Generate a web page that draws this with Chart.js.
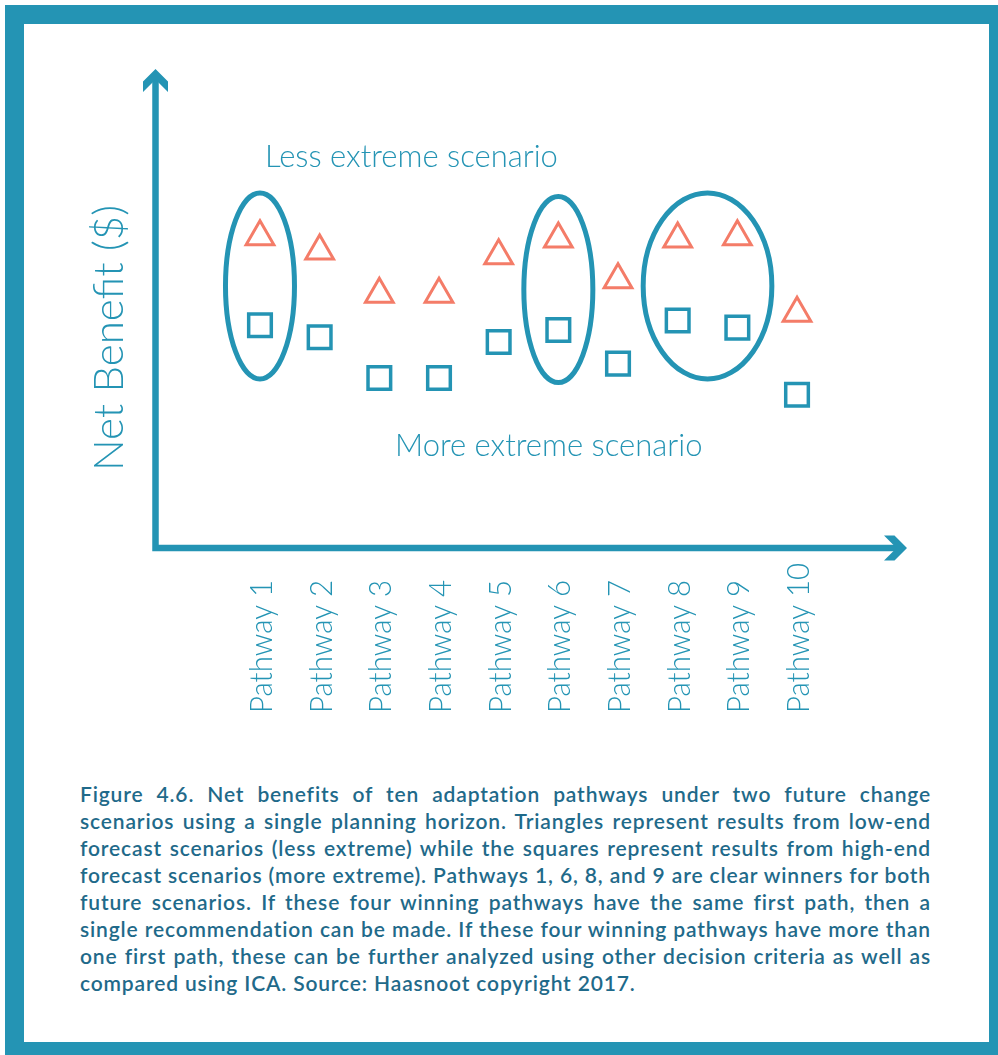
<!DOCTYPE html>
<html>
<head>
<meta charset="utf-8">
<script src="https://cdn.jsdelivr.net/npm/chart.js@4.4.1/dist/chart.umd.min.js"></script>
<style>
html, body { margin: 0; padding: 0; background: #fff; }
#page { position: relative; width: 998px; height: 1055px; overflow: hidden; background: #fff; }
#frame { position: absolute; left: 5px; top: 5px; width: 993px; height: 1050px; background: #2494b4; }
#inner { position: absolute; left: 24px; top: 24px; width: 965px; height: 1018px; background: #fff; }
#myChart { position: absolute; left: 0; top: 0; }
#caption { position: absolute; left: 80px; top: 780px; width: 851px; font-family: Lato, sans-serif; font-weight: 600;
  font-size: 21px; letter-spacing: 0.85px; line-height: 27px; color: #1f6a8a; }
#caption div { text-align: justify; text-align-last: justify; white-space: nowrap; }
#caption div.last { text-align-last: left; }
</style>
</head>
<body>
<div id="page">
  <div id="frame"></div>
  <div id="inner"></div>
  <canvas id="myChart" width="998" height="760"></canvas>
  <div id="caption">
    <div>Figure 4.6. Net benefits of ten adaptation pathways under two future change</div>
    <div>scenarios using a single planning horizon. Triangles represent results from low-end</div>
    <div>forecast scenarios (less extreme) while the squares represent results from high-end</div>
    <div>forecast scenarios (more extreme). Pathways 1, 6, 8, and 9 are clear winners for both</div>
    <div>future scenarios. If these four winning pathways have the same first path, then a</div>
    <div>single recommendation can be made. If these four winning pathways have more than</div>
    <div>one first path, these can be further analyzed using other decision criteria as well as</div>
    <div class="last">compared using ICA. Source: Haasnoot copyright 2017.</div>
  </div>
</div>
<script>
var categories = ["Pathway 1","Pathway 2","Pathway 3","Pathway 4","Pathway 5",
                  "Pathway 6","Pathway 7","Pathway 8","Pathway 9","Pathway 10"];
var lessExtreme = [65, 62, 53, 53, 61, 64.5, 56, 64.5, 65, 49];
var moreExtreme = [46.5, 44, 35.5, 35.5, 43, 45.5, 38.5, 47.5, 46, 32];
var winners = [[1], [6], [8, 9]];
var yTitle = "Net Benefit ($)";
var lessLabel = "Less extreme scenario";
var moreLabel = "More extreme scenario";

var teal = '#2494b4';
var salmon = '#f47c68';

function toPoints(values) {
    return values.map(function (v, i) { return { x: i + 1, y: v }; });
}

// chevron arrow head, d = direction the arrow points
function arrowHead(ctx, tx, ty, dx, dy) {
    var px = -dy, py = dx, a = 12.5, c = 10.5;
    ctx.beginPath();
    ctx.moveTo(tx, ty);
    ctx.lineTo(tx - a * dx + a * px, ty - a * dy + a * py);
    ctx.lineTo(tx - (a + c) * dx + a * px, ty - (a + c) * dy + a * py);
    ctx.lineTo(tx - c * dx, ty - c * dy);
    ctx.lineTo(tx - (a + c) * dx - a * px, ty - (a + c) * dy - a * py);
    ctx.lineTo(tx - a * dx - a * px, ty - a * dy - a * py);
    ctx.closePath();
    ctx.fill();
}

var decorations = {
    id: 'decorations',
    beforeDatasetsDraw: function (chart) {
        var ctx = chart.ctx, area = chart.chartArea;
        var xs = chart.scales.x, ys = chart.scales.y;
        ctx.save();
        ctx.strokeStyle = teal;
        ctx.fillStyle = teal;

        // axes with arrows
        ctx.lineWidth = 6.5;
        ctx.beginPath();
        ctx.moveTo(area.left, area.top + 10);
        ctx.lineTo(area.left, area.bottom);
        ctx.lineTo(area.right - 10, area.bottom);
        ctx.stroke();
        arrowHead(ctx, area.left, area.top, 0, -1);
        arrowHead(ctx, area.right, area.bottom, 1, 0);

        // winner ellipses
        ctx.lineWidth = 5;
        winners.forEach(function (group) {
            var x0 = xs.getPixelForValue(group[0]);
            var x1 = xs.getPixelForValue(group[group.length - 1]);
            var cy = 0;
            group.forEach(function (p) {
                cy += (ys.getPixelForValue(lessExtreme[p - 1]) + ys.getPixelForValue(moreExtreme[p - 1])) / 2;
            });
            cy = cy / group.length + 5;
            ctx.beginPath();
            ctx.ellipse((x0 + x1) / 2, cy, (x1 - x0) / 2 + 34.5, 93, 0, 0, Math.PI * 2);
            ctx.stroke();
        });

        // tick labels, rotated
        ctx.font = '300 32px Lato';
        ctx.textAlign = 'left';
        ctx.textBaseline = 'alphabetic';
        categories.forEach(function (label, i) {
            var x = xs.getPixelForValue(i + 1);
            ctx.save();
            ctx.translate(x + 12, 713);
            ctx.rotate(-Math.PI / 2);
            ctx.scale(0.92, 1);
            ctx.fillText(label, 0, 0);
            ctx.restore();
        });

        // y title
        ctx.save();
        ctx.font = '300 42px Lato';
        ctx.textAlign = 'center';
        ctx.translate(123, 338);
        ctx.rotate(-Math.PI / 2);
        ctx.fillText(yTitle, 0, 0);
        ctx.restore();

        // scenario labels
        ctx.font = '300 31px Lato';
        ctx.textAlign = 'left';
        ctx.fillText(lessLabel, 265, 167);
        ctx.font = '300 31px Lato';
        ctx.fillText(moreLabel, 395, 456);
        ctx.restore();
    }
};

var ctx = document.getElementById("myChart").getContext('2d');
var myChart = new Chart(ctx, {
    type: 'scatter',
    data: {
        datasets: [{
            label: 'Less extreme',
            data: toPoints(lessExtreme),
            pointStyle: 'triangle',
            pointRadius: 16,
            borderWidth: 3,
            borderColor: salmon,
            backgroundColor: 'rgba(0,0,0,0)'
        }, {
            label: 'More extreme',
            data: toPoints(moreExtreme),
            pointStyle: 'rect',
            pointRadius: 16,
            borderWidth: 3.5,
            borderColor: teal,
            backgroundColor: 'rgba(0,0,0,0)'
        }]
    },
    options: {
        responsive: false,
        animation: false,
        devicePixelRatio: 1,
        events: [],
        plugins: {
            legend: { display: false },
            tooltip: { enabled: false }
        },
        layout: {
            padding: { left: 155.5, top: 69, right: 91, bottom: 212 }
        },
        scales: {
            x: { type: 'linear', min: -0.751, max: 11.843, display: false },
            y: { min: 0, max: 100, display: false }
        }
    },
    plugins: [decorations]
});
</script>
</body>
</html>
